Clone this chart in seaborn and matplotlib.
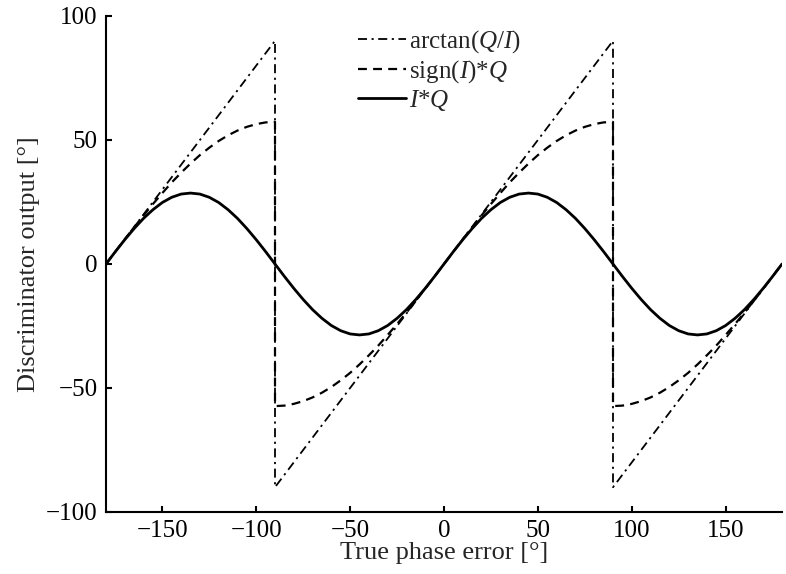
import matplotlib
matplotlib.use("Agg")
import matplotlib.pyplot as plt
import seaborn as sns
import pandas as pd

# arctan(Q/I): sawtooth, jumps at +-90
x_atan = [-180, -90, -90, 90, 90, 180]
y_atan = [0, 90, -90, 90, -90, 0]

# sign(I)*Q (duplicate x at +-90 for the jumps)
x_sgn = [-180, -175, -170, -165, -160, -155, -150, -145, -140, -135, -130,
         -125, -120, -115, -110, -105, -100, -95, -90,
         -90, -85, -80, -75, -70, -65, -60, -55, -50, -45, -40,
         -35, -30, -25, -20, -15, -10, -5, 0,
         5, 10, 15, 20, 25, 30, 35, 40, 45, 50,
         55, 60, 65, 70, 75, 80, 85, 90,
         90, 95, 100, 105, 110, 115, 120, 125, 130, 135, 140,
         145, 150, 155, 160, 165, 170, 175, 180]
y_sgn = [0, 5.0, 10.0, 14.8, 19.6, 24.2, 28.6, 32.9, 36.8, 40.5, 43.9,
         46.9, 49.6, 51.9, 53.8, 55.3, 56.4, 57.1, 57.3,
         -57.3, -57.1, -56.4, -55.3, -53.8, -51.9, -49.6, -46.9, -43.9, -40.5, -36.8,
         -32.9, -28.6, -24.2, -19.6, -14.8, -10.0, -5.0, 0,
         5.0, 10.0, 14.8, 19.6, 24.2, 28.6, 32.9, 36.8, 40.5, 43.9,
         46.9, 49.6, 51.9, 53.8, 55.3, 56.4, 57.1, 57.3,
         -57.3, -57.1, -56.4, -55.3, -53.8, -51.9, -49.6, -46.9, -43.9, -40.5, -36.8,
         -32.9, -28.6, -24.2, -19.6, -14.8, -10.0, -5.0, 0]

# I*Q
x_iq = [-180, -175, -170, -165, -160, -155, -150, -145, -140, -135, -130,
        -125, -120, -115, -110, -105, -100, -95, -90,
        -85, -80, -75, -70, -65, -60, -55, -50, -45, -40,
        -35, -30, -25, -20, -15, -10, -5, 0,
        5, 10, 15, 20, 25, 30, 35, 40, 45, 50,
        55, 60, 65, 70, 75, 80, 85, 90,
        95, 100, 105, 110, 115, 120, 125, 130, 135, 140,
        145, 150, 155, 160, 165, 170, 175, 180]
y_iq = [0, 5.0, 9.8, 14.3, 18.4, 21.9, 24.8, 26.9, 28.2, 28.6, 28.2,
        26.9, 24.8, 21.9, 18.4, 14.3, 9.8, 5.0, 0,
        -5.0, -9.8, -14.3, -18.4, -21.9, -24.8, -26.9, -28.2, -28.6, -28.2,
        -26.9, -24.8, -21.9, -18.4, -14.3, -9.8, -5.0, 0,
        5.0, 9.8, 14.3, 18.4, 21.9, 24.8, 26.9, 28.2, 28.6, 28.2,
        26.9, 24.8, 21.9, 18.4, 14.3, 9.8, 5.0, 0,
        -5.0, -9.8, -14.3, -18.4, -21.9, -24.8, -26.9, -28.2, -28.6, -28.2,
        -26.9, -24.8, -21.9, -18.4, -14.3, -9.8, -5.0, 0]

x_ticks = [-150, -100, -50, 0, 50, 100, 150]
y_ticks = [-100, -50, 0, 50, 100]

sns.set_theme(style="ticks")
plt.rcParams['font.family'] = ['Liberation Serif', 'DejaVu Serif']
plt.rcParams['mathtext.fontset'] = 'custom'
plt.rcParams['mathtext.it'] = 'Liberation Serif:italic'
plt.rcParams['mathtext.rm'] = 'Liberation Serif'

fig = plt.figure(figsize=(7.86, 5.74), dpi=100)
ax = fig.add_axes([106/786, 1 - 512/574, 676/786, 496/574])

df_a = pd.DataFrame({"x": x_atan, "y": y_atan})
df_s = pd.DataFrame({"x": x_sgn, "y": y_sgn})
df_i = pd.DataFrame({"x": x_iq, "y": y_iq})

sns.lineplot(data=df_a, x="x", y="y", ax=ax, sort=False, estimator=None,
             color="black", lw=1.3, label=r"arctan($Q/I$)")
sns.lineplot(data=df_s, x="x", y="y", ax=ax, sort=False, estimator=None,
             color="black", lw=1.6, label=r"sign($I$)*$Q$")
sns.lineplot(data=df_i, x="x", y="y", ax=ax, sort=False, estimator=None,
             color="black", lw=2.0, label=r"$I$*$Q$")
ax.lines[0].set_dashes([5, 2.5, 1.2, 2.5])
ax.lines[1].set_dashes([4, 2.8])

ax.set_xlim(-180, 180)
ax.set_ylim(-100, 100)
ax.set_xticks(x_ticks)
ax.set_yticks(y_ticks)
ax.tick_params(direction="in", length=4, width=1.5, labelsize=18, colors="black", pad=6)
for s in ["top", "right"]:
    ax.spines[s].set_visible(False)
for s in ["left", "bottom"]:
    ax.spines[s].set_linewidth(1.5)
    ax.spines[s].set_color("black")

ax.set_xlabel("True phase error [°]", fontsize=19, labelpad=0)
ax.set_ylabel("Discriminator output [°]", fontsize=19, labelpad=4)

leg = ax.legend(loc="upper left", bbox_to_anchor=(358/786, 1 - 28/574),
                bbox_transform=fig.transFigure, frameon=False, fontsize=18,
                handlelength=1.9, handletextpad=0.15, labelspacing=0.12,
                borderpad=0, borderaxespad=0)

fig.savefig("out.png", dpi=100)
